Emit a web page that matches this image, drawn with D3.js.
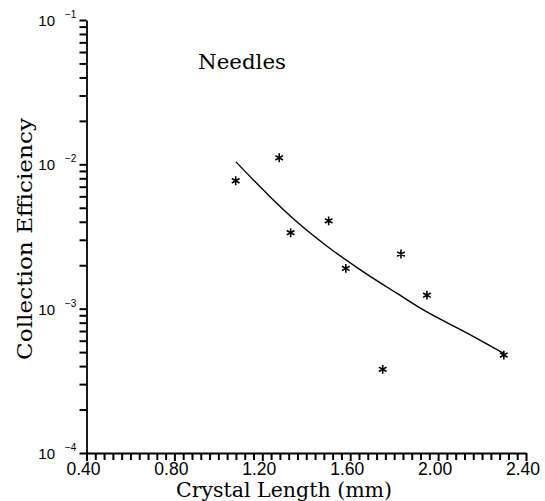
<!DOCTYPE html>
<html>
<head>
<meta charset="utf-8">
<script src="https://cdn.jsdelivr.net/npm/d3@7"></script>
<style>
  body { margin: 0; background: #fff; }
  svg { display: block; }
</style>
</head>
<body>
<svg id="chart"></svg>
<script>
const width = 545;
const height = 501;

// Measured points (crystal length in mm, collection efficiency)
const lengths = [1.079, 1.277, 1.329, 1.502, 1.580, 1.748, 1.831, 1.949, 2.299];
const efficiencies = [7.7e-3, 1.11e-2, 3.36e-3, 4.06e-3, 1.9e-3, 3.8e-4, 2.39e-3, 1.24e-3, 4.77e-4];

// Fitted curve
const fitLengths = [1.080, 1.235, 1.357, 1.493, 1.660, 1.812, 1.933, 2.130, 2.299];
const fitEfficiencies = [1.04e-2, 5.97e-3, 4.0e-3, 2.72e-3, 1.8e-3, 1.28e-3, 9.8e-4, 6.8e-4, 4.9e-4];

// Tick values
const xMajorTicks = [0.4, 0.8, 1.2, 1.6, 2.0, 2.4];
const yDecades = [1e-4, 1e-3, 1e-2, 1e-1];
const yExponents = ["\u22124", "\u22123", "\u22122", "\u22121"];

const svg = d3.select("#chart").attr("width", width).attr("height", height);

const x = d3.scaleLinear().domain([0.4, 2.4]).range([86.5, 526]);
const y = d3.scaleLog().domain([1e-4, 1e-1]).range([453, 20]);

// minor ticks: every 0.04 on x, 1..9 per decade on y
const xMinor = d3.range(0, 51).map((i) => +(0.4 + i * 0.04).toFixed(2));
const yMinor = [];
yDecades.slice(0, 3).forEach((d) => {
  for (let k = 1; k < 10; k++) yMinor.push(d * k);
});
yMinor.push(1e-1);

const isMajorX = (v) => xMajorTicks.some((m) => Math.abs(m - v) < 1e-6);
const x0 = x.range()[0];
const y0 = y.range()[0];

// x axis: ticks point down from the axis line
const gx = svg.append("g").attr("transform", `translate(0,${y0})`);
gx.call(
  d3.axisBottom(x)
    .tickValues(xMinor)
    .tickSize(7)
    .tickSizeOuter(0)
    .tickFormat(() => "")
);
gx.selectAll(".tick line")
  .attr("y2", (d) => (isMajorX(d) ? 8 : 7))
  .attr("stroke", "#000")
  .attr("stroke-width", 2);
gx.select(".domain").attr("stroke", "#000").attr("stroke-width", 1.8);

svg.append("g")
  .selectAll("text")
  .data(xMajorTicks)
  .join("text")
  .attr("x", (d) => x(d) - 3)
  .attr("y", y0 + 22)
  .attr("text-anchor", "middle")
  .attr("font-family", "'Liberation Sans', Arial, sans-serif")
  .attr("font-size", 17.5)
  .attr("fill", "#000")
  .text((d) => d.toFixed(2));

// y axis: ticks point left
const gy = svg.append("g").attr("transform", `translate(${x0},0)`);
gy.call(
  d3.axisLeft(y)
    .tickValues(yMinor)
    .tickSize(7)
    .tickSizeOuter(0)
    .tickFormat(() => "")
);
gy.selectAll(".tick line").attr("stroke", "#000").attr("stroke-width", 2);
gy.select(".domain").attr("stroke", "#000").attr("stroke-width", 1.8);

const yl = svg.append("g")
  .attr("font-family", "'Liberation Sans', Arial, sans-serif")
  .attr("fill", "#000");
yl.selectAll(".base")
  .data(yDecades)
  .join("text")
  .attr("class", "base")
  .attr("x", 55)
  .attr("y", (d) => y(d) + 6)
  .attr("text-anchor", "end")
  .attr("font-size", 15)
  .text("10");
yl.selectAll(".exp")
  .data(yDecades)
  .join("text")
  .attr("class", "exp")
  .attr("x", 65)
  .attr("y", (d) => y(d) - 2)
  .attr("font-size", 10)
  .text((d, i) => yExponents[i]);

// fitted curve
const line = d3.line()
  .x((d) => x(d[0]))
  .y((d) => y(d[1]))
  .curve(d3.curveMonotoneX);

svg.append("path")
  .datum(fitLengths.map((v, i) => [v, fitEfficiencies[i]]))
  .attr("d", line)
  .attr("fill", "none")
  .attr("stroke", "#000")
  .attr("stroke-width", 1.4);

// asterisk markers
const star = d3.symbol().type(d3.symbolAsterisk).size(55);
svg.append("g")
  .selectAll("path")
  .data(lengths.map((v, i) => [v, efficiencies[i]]))
  .join("path")
  .attr("transform", (d) => `translate(${x(d[0])},${y(d[1])})`)
  .attr("d", star)
  .attr("fill", "none")
  .attr("stroke", "#000")
  .attr("stroke-width", 1.6);

// titles
const serif = "'DejaVu Serif', 'Liberation Serif', serif";
svg.append("text")
  .attr("x", 198)
  .attr("y", 69)
  .attr("font-family", serif)
  .attr("font-size", 21)
  .attr("textLength", 88)
  .attr("lengthAdjust", "spacingAndGlyphs")
  .text("Needles");

svg.append("text")
  .attr("x", 176)
  .attr("y", 497)
  .attr("font-family", serif)
  .attr("font-size", 19.5)
  .attr("textLength", 216)
  .attr("lengthAdjust", "spacingAndGlyphs")
  .text("Crystal Length (mm)");

svg.append("text")
  .attr("transform", "translate(32,239) rotate(-90)")
  .attr("text-anchor", "middle")
  .attr("font-family", serif)
  .attr("font-size", 20.5)
  .attr("textLength", 242)
  .attr("lengthAdjust", "spacingAndGlyphs")
  .text("Collection Efficiency");
</script>
</body>
</html>
